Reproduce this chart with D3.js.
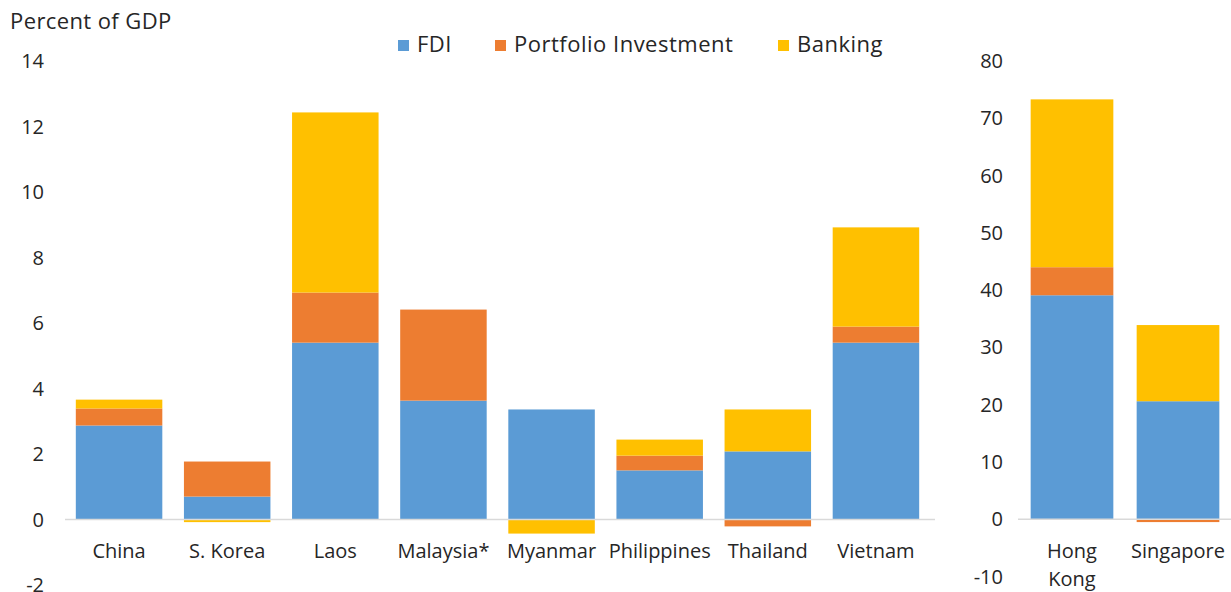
<!DOCTYPE html>
<html lang="en">
<head>
<meta charset="utf-8">
<title>Capital inflows, percent of GDP</title>
<script src="https://d3js.org/d3.v7.min.js"></script>
<style>
body{margin:0;background:#fff;}
text{font-family:"Open Sans",Lato,sans-serif;fill:#262626;}
</style>
</head>
<body>
<div id="chart"></div>
<script>
// data
var seriesNames = ["FDI","Portfolio Investment","Banking"]
var colors = ["#5b9bd5","#ed7d31","#ffc000"]

var leftCountries = ["China","S. Korea","Laos","Malaysia*","Myanmar","Philippines","Thailand","Vietnam"]
var leftFDI       = [2.87, 0.70, 5.40, 3.63, 3.36, 1.50, 2.08, 5.40]
var leftPortfolio = [0.52, 1.07, 1.53, 2.78, 0,    0.45, -0.21, 0.49]
var leftBanking   = [0.27, -0.08, 5.50, 0,   -0.43, 0.49, 1.28, 3.03]
var leftTicks = [-2,0,2,4,6,8,10,12,14]

var rightCountries = ["Hong Kong","Singapore"]
var rightFDI       = [39.1, 20.6]
var rightPortfolio = [4.9, -0.5]
var rightBanking   = [29.3, 13.3]
var rightTicks = [-10,0,10,20,30,40,50,60,70,80]

var w = 1231, h = 592
var fs = "20px"
var svg = d3.select("#chart").append("svg").attr("width",w).attr("height",h)

function rows(cats, a, b, c){
    return cats.map(function(d,i){
        return {cat:d, "FDI":a[i], "Portfolio Investment":b[i], "Banking":c[i]}
    })
}

function drawPanel(cats, data, ticks, x0, x1, pIn, pOut, bottomY, axisX, lineX0, lineX1){
    var yScale = d3.scaleLinear()
        .domain([ticks[0], ticks[ticks.length-1]])
        .range([bottomY, 61])
    var xScale = d3.scaleBand().domain(cats).range([x0,x1]).paddingInner(pIn).paddingOuter(pOut)

    var stacked = d3.stack().keys(seriesNames).offset(d3.stackOffsetDiverging)(data)

    var g = svg.append("g")
    g.selectAll("g.series")
        .data(stacked)
        .enter().append("g")
        .attr("class","series")
        .attr("fill",function(d,i){ return colors[i] })
        .selectAll("rect")
        .data(function(d){ return d })
        .enter().append("rect")
        .attr("x",function(d){ return xScale(d.data.cat) })
        .attr("width",xScale.bandwidth())
        .attr("y",function(d){ return yScale(Math.max(d[0],d[1])) })
        .attr("height",function(d){ return Math.abs(yScale(d[0])-yScale(d[1])) })

    // zero line
    g.append("line")
        .attr("x1",lineX0).attr("x2",lineX1)
        .attr("y1",yScale(0)).attr("y2",yScale(0))
        .attr("stroke","#d9d9d9").attr("stroke-width",1.5)

    // y axis labels (plain hyphen for negatives, like the original)
    var yAxis = d3.axisLeft(yScale).tickValues(ticks).tickSize(0).tickPadding(0)
        .tickFormat(function(d){ return String(d) })
    var ax = g.append("g").attr("transform","translate("+axisX+",0)").call(yAxis)
    ax.select(".domain").remove()
    ax.selectAll("text").style("font-size",fs).attr("dy","0.33em")
        .style("font-family","'Open Sans',Lato,sans-serif").attr("fill","#262626")

    // category labels
    g.selectAll("text.cat")
        .data(cats)
        .enter().append("text")
        .attr("class","cat")
        .attr("text-anchor","middle")
        .attr("x",function(d){ return xScale(d)+xScale.bandwidth()/2 })
        .attr("y",558)
        .style("font-size",fs)
        .each(function(d){
            var parts = d=="Hong Kong" ? ["Hong","Kong"] : [d]
            var t = d3.select(this)
            parts.forEach(function(p,i){
                t.append("tspan").attr("x",t.attr("x")).attr("dy",i==0?0:28).text(p)
            })
        })
}

drawPanel(leftCountries, rows(leftCountries,leftFDI,leftPortfolio,leftBanking), leftTicks, 65, 930, 0.2, 0.1, 585, 44, 65, 935)
drawPanel(rightCountries, rows(rightCountries,rightFDI,rightPortfolio,rightBanking), rightTicks, 1019, 1231, 0.22, 0.11, 576.5, 1003, 1018, 1231)

// title
svg.append("text").attr("x",10).attr("y",29).style("font-size","22px")
    .style("letter-spacing","0.4px").text("Percent of GDP")

// legend
var legX = [398, 495, 778]
var leg = svg.selectAll("g.leg").data(seriesNames).enter().append("g").attr("class","leg")
    .attr("transform",function(d,i){ return "translate("+legX[i]+",40)" })
leg.append("rect").attr("width",11).attr("height",11).attr("fill",function(d,i){ return colors[i] })
leg.append("text").attr("x",19).attr("y",12).style("font-size","22px")
    .style("letter-spacing","0.5px").text(function(d){ return d })
</script>
</body>
</html>
